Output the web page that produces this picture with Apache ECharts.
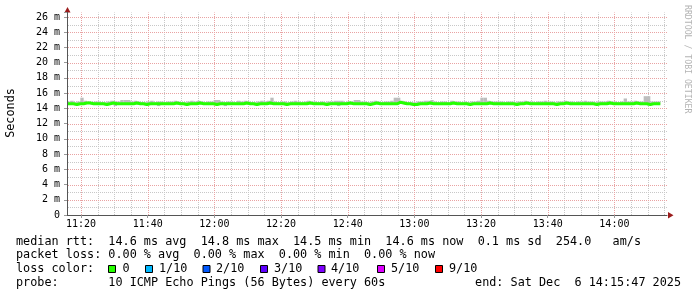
<!DOCTYPE html>
<html><head><meta charset="utf-8">
<script src="https://cdn.jsdelivr.net/npm/echarts@6/dist/echarts.min.js"></script>
<style>html,body{margin:0;padding:0;background:#fff}#c{width:697px;height:297px}</style>
</head><body><div id="c"></div>
<script>
// ---- data ----
const startTime = '11:15:47';
const endTime = '14:15:47';
const stepMinutes = 1;
const xTickLabels = ['11:20','11:40','12:00','12:20','12:40','13:00','13:20','13:40','14:00'];
const yTickLabels = ['0','2 m','4 m','6 m','8 m','10 m','12 m','14 m','16 m','18 m','20 m','22 m','24 m','26 m'];
const yMax = 26.6;
const yAxisTitle = 'Seconds';
const watermark = 'RRDTOOL / TOBI OETIKER';

// median RTT (ms), one value per minute
const median = [
14.6,14.6,14.6,14.5,14.6,14.6,14.7,14.7,14.6,14.6,
14.6,14.6,14.5,14.6,14.7,14.6,14.6,14.6,14.6,14.6,
14.6,14.7,14.6,14.6,14.5,14.6,14.6,14.6,14.6,14.6,
14.6,14.6,14.6,14.7,14.6,14.6,14.5,14.6,14.6,14.6,
14.7,14.6,14.6,14.6,14.6,14.5,14.6,14.6,14.6,14.6,
14.6,14.6,14.6,14.6,14.7,14.6,14.6,14.5,14.6,14.6,
14.6,14.7,14.6,14.6,14.6,14.6,14.5,14.6,14.6,14.6,
14.6,14.6,14.6,14.7,14.6,14.6,14.6,14.6,14.5,14.6,
14.6,14.6,14.6,14.6,14.6,14.7,14.6,14.6,14.6,14.6,
14.6,14.5,14.6,14.7,14.6,14.6,14.6,14.6,14.6,14.6,
14.8,14.7,14.6,14.6,14.5,14.5,14.6,14.6,14.6,14.7,
14.6,14.6,14.6,14.6,14.6,14.6,14.7,14.6,14.6,14.6,
14.6,14.5,14.6,14.6,14.6,14.6,14.6,14.7,14.6,14.6,
14.6,14.6,14.6,14.6,14.6,14.5,14.6,14.6,14.7,14.6,
14.6,14.6,14.6,14.6,14.6,14.6,14.6,14.5,14.6,14.6,
14.7,14.6,14.6,14.6,14.6,14.6,14.6,14.6,14.6,14.5,
14.6,14.6,14.6,14.7,14.6,14.6,14.6,14.6,14.6,14.6,
14.6,14.7,14.6,14.6,14.6,14.5,14.6,14.6,14.6
];
// smoke: lowest and highest ping per minute (ms)
const smokeLow = [
14.5,14.5,14.5,14.4,14.5,14.5,14.6,14.6,14.5,14.5,
14.5,14.5,14.4,14.5,14.6,14.3,14.5,14.5,14.5,14.5,
14.5,14.6,14.5,14.5,14.4,14.5,14.5,14.5,14.3,14.5,
14.5,14.5,14.5,14.6,14.5,14.5,14.4,14.5,14.5,14.5,
14.6,14.5,14.5,14.5,14.5,14.4,14.5,14.5,14.3,14.5,
14.5,14.5,14.5,14.5,14.6,14.5,14.5,14.4,14.5,14.5,
14.5,14.6,14.5,14.5,14.5,14.5,14.4,14.5,14.5,14.5,
14.5,14.5,14.5,14.6,14.5,14.5,14.5,14.5,14.4,14.5,
14.5,14.5,14.3,14.5,14.5,14.6,14.5,14.5,14.5,14.5,
14.5,14.4,14.5,14.6,14.5,14.5,14.5,14.5,14.5,14.5,
14.7,14.6,14.5,14.5,14.4,14.4,14.5,14.5,14.5,14.6,
14.5,14.5,14.5,14.5,14.5,14.5,14.6,14.5,14.5,14.5,
14.5,14.4,14.5,14.5,14.5,14.5,14.5,14.6,14.5,14.5,
14.5,14.5,14.5,14.5,14.5,14.4,14.5,14.5,14.6,14.5,
14.5,14.5,14.5,14.5,14.5,14.5,14.5,14.4,14.5,14.5,
14.6,14.5,14.5,14.5,14.5,14.5,14.5,14.5,14.5,14.4,
14.5,14.5,14.5,14.6,14.5,14.5,14.5,14.5,14.5,14.5,
14.5,14.6,14.5,14.5,14.5,14.4,14.5,14.5,14.5
];
const smokeHigh = [
14.8,14.9,15.0,14.8,14.9,15.4,15.0,14.9,14.8,14.9,
14.9,14.8,14.8,14.9,15.0,14.9,14.9,15.1,15.1,15.1,
14.9,15.0,14.9,14.8,14.8,14.9,15.0,14.8,14.9,14.9,
14.8,14.9,14.9,15.0,14.9,14.8,14.8,14.9,15.0,14.9,
15.0,14.9,14.8,14.9,14.9,15.1,15.1,14.9,14.8,14.9,
14.9,14.8,15.0,14.9,15.0,14.9,14.8,14.8,14.9,15.0,
14.9,15.0,15.4,14.9,14.8,14.9,14.9,14.8,14.9,15.0,
14.9,14.8,14.9,15.0,14.9,14.9,14.8,14.9,14.8,14.9,
14.9,15.0,15.0,15.0,14.8,14.9,14.9,15.1,15.1,14.9,
14.9,14.8,14.9,15.0,14.9,14.8,14.9,14.9,15.0,15.4,
15.4,15.0,14.9,14.8,14.8,14.8,14.9,14.9,15.0,15.0,
15.1,14.9,14.8,14.9,14.9,14.8,15.0,14.9,14.9,14.8,
14.9,14.8,14.9,14.9,15.0,15.4,15.4,15.0,14.9,14.9,
14.9,14.9,14.8,14.9,14.9,14.8,14.9,14.9,15.0,14.9,
14.9,14.8,14.9,14.9,15.0,14.9,14.9,14.8,14.9,14.9,
15.0,14.9,14.9,14.8,14.9,14.9,15.0,14.9,14.9,14.8,
14.9,14.9,14.9,15.0,14.9,14.9,14.8,14.9,15.3,14.9,
14.9,15.0,14.9,14.9,15.6,15.6,14.9,14.9,14.9
];

const legendLines = [
  'median rtt:  14.6 ms avg  14.8 ms max  14.5 ms min  14.6 ms now  0.1 ms sd  254.0   am/s',
  'packet loss: 0.00 % avg  0.00 % max  0.00 % min  0.00 % now',
  'loss color:',
  'probe:       10 ICMP Echo Pings (56 Bytes) every 60s'
];
const endLabel = 'end: Sat Dec  6 14:15:47 2025';
const lossLabels = ['0','1/10','2/10','3/10','4/10','5/10','9/10'];
const lossColors = ['#26ff00','#00b8ff','#0059ff','#5e00ff','#7e00ff','#dd00ff','#ff0000'];

// ---- helpers ----
function toMin(s){ const p = s.split(':').map(Number); return p[0]*60 + p[1] + (p[2]||0)/60; }
function fmt(m){ const h = Math.floor(m/60 + 1e-6); const mm = Math.round(m - h*60); return String(h).padStart(2,'0') + ':' + String(mm).padStart(2,'0'); }
const t0 = toMin(startTime), t1 = toMin(endTime);
const xs = median.map((_, i) => t0 + i*stepMinutes);
const majorX = xTickLabels.map(toMin);
const minorX = [];
for (let m = majorX[0]; m <= t1; m += 5) if (!majorX.some(v => Math.abs(v-m) < 1e-6)) minorX.push(m);
const majorY = yTickLabels.map((_, i) => i*2).filter(v => v > 0);
const minorY = [];
for (let v = 1; v < yMax; v += 2) minorY.push(v);

const medData = median.map((v,i) => [xs[i], v]);
const smokeData = smokeHigh.map((v,i) => [xs[i], smokeLow[i], v]).slice(1);

const MONO = 'DejaVu Sans Mono';
const RED = '#e9a3a3', GREY = '#c8c8c8';

function gridSeries(values, vertical, color, z){
  return {
    type:'custom', silent:true, z:z, clip:false,
    data: values.map(v => vertical ? [v, 0] : [t0, v]),
    renderItem(params, api){
      let x1,y1,x2,y2;
      if (vertical){
        const a = api.coord([api.value(0), 0]), b = api.coord([api.value(0), yMax]);
        x1 = x2 = Math.round(a[0]) + 0.5; y1 = a[1]; y2 = b[1];
      } else {
        const a = api.coord([t0, api.value(1)]), b = api.coord([t1, api.value(1)]);
        y1 = y2 = Math.round(a[1]) + 0.5; x1 = a[0] + 1; x2 = b[0];
      }
      return {type:'line', shape:{x1,y1,x2,y2}, style:{stroke:color, lineWidth:1, lineDash:[1,1]}};
    }
  };
}

const chart = echarts.init(document.getElementById('c'), null, {renderer:'canvas'});

const graphics = [];
graphics.push({type:'text', x:11, y:113, rotation:Math.PI/2, style:{text:yAxisTitle, font:'11.8px "'+MONO+'"', fill:'#000', textAlign:'center', textVerticalAlign:'middle'}});
graphics.push({type:'text', x:687, y:5, rotation:-Math.PI/2, style:{text:watermark, font:'8.2px "'+MONO+'"', fill:'#b4b4b4', textAlign:'left', textVerticalAlign:'middle'}});
graphics.push({type:'polygon', shape:{points:[[64.5,12.5],[70.5,12.5],[67.5,7]]}, style:{fill:'#9b1c1c'}});
graphics.push({type:'polygon', shape:{points:[[668,212],[668,218.5],[673.5,215.3]]}, style:{fill:'#9b1c1c'}});
const lineY = [241.5, 255.4, 269.3, 283.3];
legendLines.forEach((t,i) => graphics.push({type:'text', x:16, y:lineY[i], style:{text:t, font:'11.8px "'+MONO+'"', fill:'#000', textVerticalAlign:'middle'}}));
graphics.push({type:'text', x:681, y:lineY[3], style:{text:endLabel, font:'11.8px "'+MONO+'"', fill:'#000', textAlign:'right', textVerticalAlign:'middle'}});
const boxX = [108.5, 145.5, 203, 260.5, 318, 377.5, 435.5];
const txtX = [122.5, 159, 216, 274, 331, 391, 449];
lossLabels.forEach((t,i) => {
  graphics.push({type:'rect', shape:{x:boxX[i], y:265.5, width:7, height:7}, style:{fill:lossColors[i], stroke:'#000', lineWidth:1}});
  graphics.push({type:'text', x:txtX[i], y:lineY[2], style:{text:t, font:'11.8px "'+MONO+'"', fill:'#000', textVerticalAlign:'middle'}});
});

chart.setOption({
  animation:false,
  backgroundColor:'#fff',
  grid:{left:67, right:30, top:12.4, bottom:82, containLabel:false, outerBoundsMode:'none'},
  xAxis:{type:'value', min:t0, max:t1, z:5,
     axisLine:{show:true, onZero:false, lineStyle:{color:'#555', width:1}},
     axisTick:{show:true, length:3, customValues:majorX, lineStyle:{color:'#999'}},
     axisLabel:{customValues:majorX, formatter:v => fmt(v), fontFamily:MONO, fontSize:10, color:'#000', margin:4},
     splitLine:{show:false}},
  yAxis:{type:'value', min:0, max:yMax, interval:2, z:5,
     axisLine:{show:true, onZero:false, lineStyle:{color:'#555', width:1}},
     axisTick:{show:true, length:3, lineStyle:{color:'#999'}},
     axisLabel:{fontFamily:MONO, fontSize:10, color:'#000', margin:7,
       formatter:v => (Math.abs(v/2 - Math.round(v/2)) < 1e-6 ? (yTickLabels[Math.round(v/2)] || '') : '')},
     splitLine:{show:false}},
  series:[
    gridSeries(minorY, false, GREY, 1),
    gridSeries(minorX, true, GREY, 1),
    gridSeries(majorY, false, RED, 2),
    gridSeries(majorX, true, RED, 2),
    {type:'custom', name:'smoke', silent:true, z:3, data:smokeData,
     renderItem(params, api){
       const a = api.coord([api.value(0) - stepMinutes, api.value(2)]);
       const b = api.coord([api.value(0), api.value(1)]);
       return {type:'rect', shape:{x:a[0], y:a[1], width:b[0]-a[0], height:b[1]-a[1]}, style:{fill:'#bdbdbd'}};
     }},
    {type:'line', name:'median', data:medData, step:'start', symbol:'none',
     lineStyle:{color:'#26ff00', width:3}, z:4}
  ],
  graphic:graphics
});
</script></body></html>
